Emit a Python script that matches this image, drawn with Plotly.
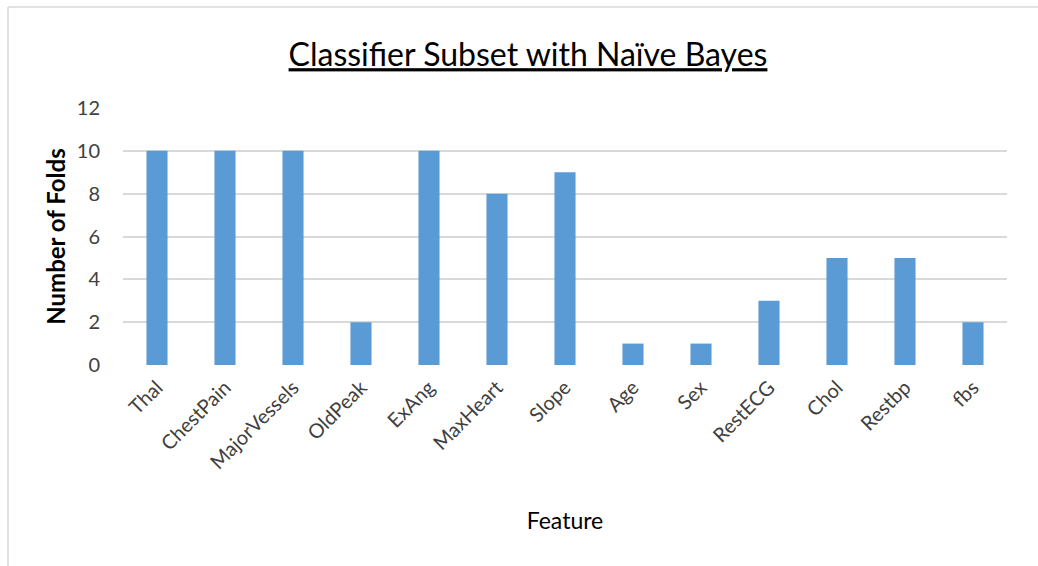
import plotly.graph_objects as go

features = ["Thal", "ChestPain", "MajorVessels", "OldPeak", "ExAng", "MaxHeart",
            "Slope", "Age", "Sex", "RestECG", "Chol", "Restbp", "fbs"]
folds = [10, 10, 10, 2, 10, 8, 9, 1, 1, 3, 5, 5, 2]
y_ticks = [0, 2, 4, 6, 8, 10, 12]

W, H = 1038, 566
L, R, T, B = 123, 31, 108, 201
pw, ph = W - L - R, H - T - B

def px_x(p):
    return (p - L) / pw

def px_y(p):
    return (H - B - p) / ph

FONT = "Lato, 'Open Sans', sans-serif"

fig = go.Figure(go.Bar(x=features, y=folds, marker=dict(color="#5B9BD5", line=dict(width=0)),
                       hoverinfo="x+y"))

fig.update_layout(
    width=W, height=H,
    margin=dict(l=L, r=R, t=T, b=B),
    paper_bgcolor="white", plot_bgcolor="white",
    bargap=0.69,
    showlegend=False,
    title=dict(text="<u>Classifier Subset with Naïve Bayes</u>", x=528 / W, xanchor="center",
               y=1 - 55 / H, yanchor="middle",
               font=dict(family=FONT, size=32, color="#000000")),
    font=dict(family=FONT, color="#404040"),
    xaxis=dict(tickangle=-45, tickfont=dict(size=20, color="#404040"),
               showgrid=False, showline=False, ticks="", ticklabelstandoff=6,
               title=dict(text="Feature", font=dict(size=23, color="#000000"), standoff=40)),
    yaxis=dict(range=[0, 12], tickvals=y_ticks, tickfont=dict(size=20, color="#404040"),
               showgrid=True, gridcolor="#D9D9D9", gridwidth=1.5, zeroline=False,
               showline=False, ticks="", ticklabelstandoff=22,
               title=dict(text="<b>Number of Folds</b>", font=dict(size=24, color="#000000"), standoff=4)),
    shapes=[
        dict(type="line", xref="paper", yref="paper", x0=px_x(8), x1=px_x(8),
             y0=px_y(7), y1=px_y(H + 5), line=dict(color="#D9D9D9", width=1.5)),
        dict(type="line", xref="paper", yref="paper", x0=px_x(8), x1=px_x(W + 5),
             y0=px_y(7), y1=px_y(7), line=dict(color="#D9D9D9", width=1.5)),
    ],
)

fig.write_html("out.html", config={"displayModeBar": False},
               post_script="document.body.style.margin='0';")
